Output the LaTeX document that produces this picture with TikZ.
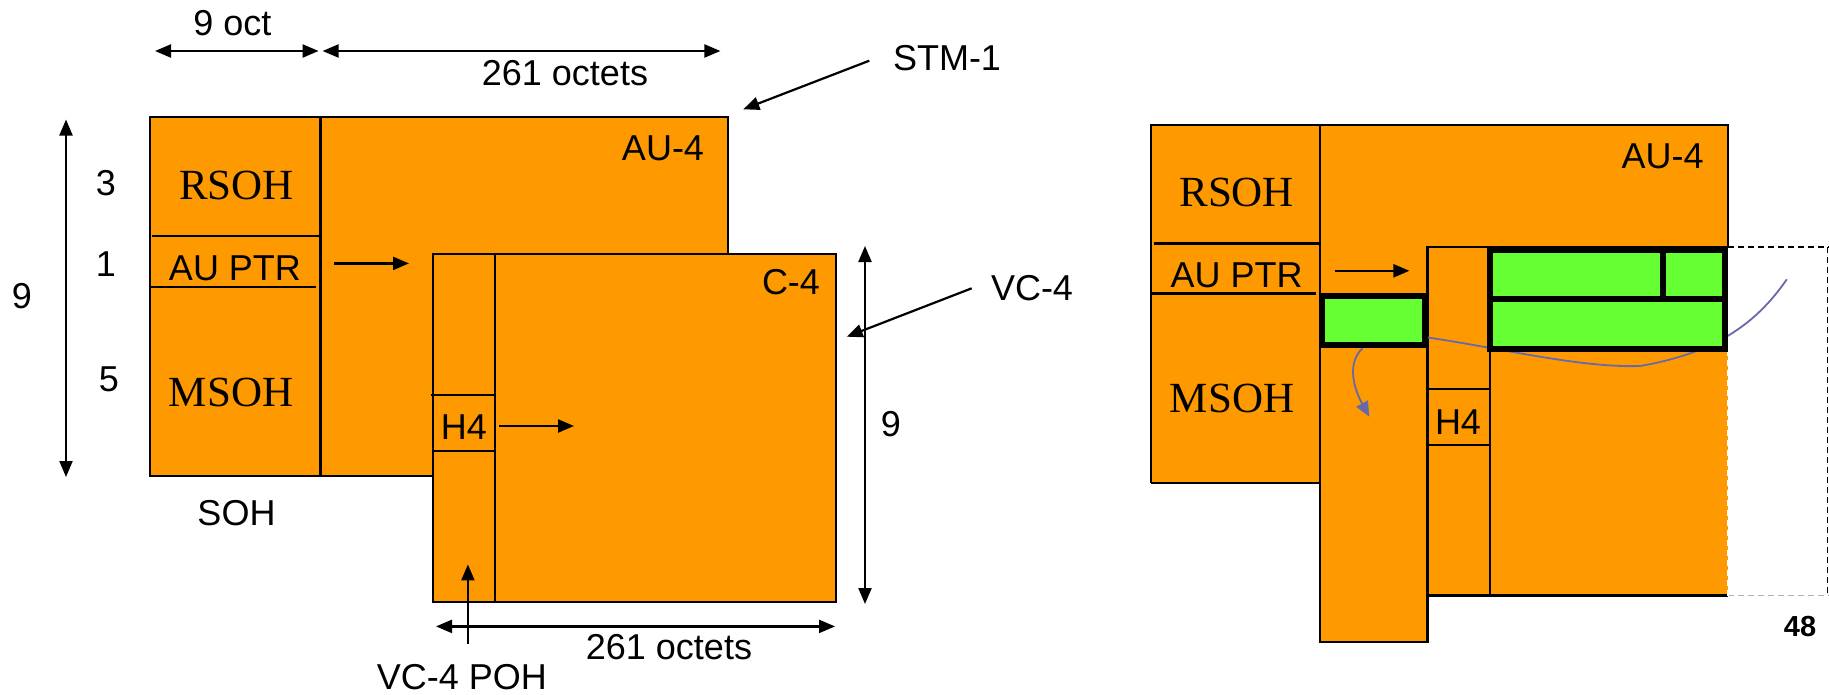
\documentclass[tikz,border=0pt]{standalone}
\usepackage{fontspec}
\setmainfont{Liberation Sans}
\newfontfamily\serifft{Liberation Serif}
\usetikzlibrary{arrows.meta}
\definecolor{sdhorange}{RGB}{255,153,0}
\definecolor{sdhgreen}{RGB}{102,255,51}
\definecolor{curveblue}{RGB}{102,106,170}
\begin{document}
\begin{tikzpicture}[x=1pt,y=-1pt,
  lbl/.style={inner sep=0pt, font=\fontsize{36}{40}\selectfont},
  serlbl/.style={inner sep=0pt, font=\serifft\fontsize{43}{48}\selectfont},
  edge/.style={line width=2.2pt},
  thickedge/.style={line width=2.8pt},
  arr/.style={line width=2.2pt, -{Triangle[length=16pt,width=13pt]}},
  dimarr/.style={line width=2.2pt, {Triangle[length=16pt,width=13pt]}-{Triangle[length=16pt,width=13pt]}},
  gbox/.style={fill=sdhgreen, draw=black, line width=6pt},
  dashedge/.style={dash pattern=on 6pt off 4pt, line width=1.5pt},
]
\useasboundingbox (0,0) rectangle (1829,694);
\fill[white] (0,0) rectangle (1829,694);

% ================= LEFT DIAGRAM =================
\fill[sdhorange] (150,117) rectangle (728,476);
\draw[edge] (150,117) rectangle (728,476);
\draw[edge] (320.5,117) -- (320.5,476);
\draw[thickedge] (152,236) -- (320.5,236);
\draw[thickedge] (150,287) -- (316,287);

\draw[edge, fill=sdhorange] (433,254) rectangle (836,602);
\draw[edge] (495,254) -- (495,602);
\draw[thickedge] (430.5,395) -- (495,395);
\draw[edge] (433,451) -- (495,451);

% texts
\node[serlbl] (rsohL) at (236.5,185) {RSOH};
\node[lbl] (auptrL) at (235,268) {AU PTR};
\node[serlbl] (msohL) at (231,392) {MSOH};
\node[lbl] (au4L) at (663,148) {AU-4};
\node[lbl] (c4L) at (791,282) {C-4};
\node[lbl] (h4L) at (464,427) {H4};
\node[lbl] (nineoct) at (232.5,23) {9 oct};
\node[lbl] (octtop) at (565,73) {261 octets};
\node[lbl] (stm) at (947,58) {STM-1};
\node[lbl] (vc4) at (1032,288) {VC-4};
\node[lbl] (nineR) at (891,424) {9};
\node[lbl] (nineL) at (22,296) {9};
\node[lbl] (three) at (106,183) {3};
\node[lbl] (one) at (106,264) {1};
\node[lbl] (five) at (109,379) {5};
\node[lbl] (soh) at (236.5,512.6) {SOH};
\node[lbl] (octbot) at (669,647) {261 octets};
\node[lbl] (vcpoh) at (462,677) {VC-4 POH};

% dimension arrows
\coordinate (a1) at (155,51);
\coordinate (a2) at (318.6,51);
\coordinate (b1) at (322.6,51);
\coordinate (b2) at (720.4,51);
\draw[dimarr] (a1) -- (a2);
\draw[dimarr] (b1) -- (b2);
\coordinate (vl1) at (66,119.5);
\coordinate (vl2) at (66,477);
\draw[dimarr] (vl1) -- (vl2);
\coordinate (vr1) at (865,246);
\coordinate (vr2) at (865,604);
\draw[dimarr] (vr1) -- (vr2);
\coordinate (bb1) at (436,626.4);
\coordinate (bb2) at (835,626.4);
\draw[dimarr] (bb1) -- (bb2);

% pointer arrows
\coordinate (stmS) at (869.3,60.7);
\coordinate (stmT) at (743.3,109.3);
\draw[arr] (stmS) -- (stmT);
\coordinate (vcS) at (971.7,288.3);
\coordinate (vcT) at (846.7,336.7);
\draw[arr] (vcS) -- (vcT);
\coordinate (apS) at (334,263.4);
\coordinate (apT) at (409,263.4);
\draw[arr] (apS) -- (apT);
\coordinate (h4S) at (499.4,426);
\coordinate (h4T) at (574,426);
\draw[arr] (h4S) -- (h4T);
\coordinate (pohS) at (467.9,644);
\coordinate (pohT) at (467.9,564.4);
\draw[arr] (pohS) -- (pohT);

% ================= RIGHT DIAGRAM =================
% fills
\fill[sdhorange] (1150.7,124.6) rectangle (1728,482.6);
\fill[sdhorange] (1320.3,124.6) rectangle (1427.5,641.7);
\fill[sdhorange] (1427.5,247) rectangle (1728,595.5);
% edges
\draw[edge] (1150.7,482.6) -- (1150.7,124.6) -- (1728,124.6) -- (1728,247);
\draw[edge] (1150.7,482.6) -- (1320.3,482.6);
\draw[edge] (1320.3,124.6) -- (1320.3,641.7) -- (1427.5,641.7) -- (1427.5,247);
\draw[thickedge] (1154,243.2) -- (1320.3,243.2);
\draw[thickedge] (1150.7,293.6) -- (1316,293.6);
\draw[edge] (1728,247) -- (1427.5,247) -- (1427.5,595.5) -- (1728,595.5);
\draw[edge] (1489.9,247) -- (1489.9,595.5);
\draw[edge] (1427.5,389) -- (1489.9,389);
\draw[edge] (1427.5,444.7) -- (1489.9,444.7);

% dashed extension
\draw[dashedge, black] (1728,247) -- (1829,247);
\draw[dashedge, black] (1827.6,247) -- (1827.6,595.5);
\draw[dashedge, black!30] (1728,595.5) -- (1829,595.5);
\draw[dashedge, white] (1728,350) -- (1728,595.5);

% blue path
\coordinate (cv1) at (1786.8,279.3);
\coordinate (cv2) at (1640,366);
\coordinate (cv3) at (1426.5,337.3);
\draw[curveblue, line width=1.8pt] (cv1) .. controls (1760,318) and (1722,352) .. (cv2)
  .. controls (1580,368) and (1500,348) .. (cv3);
\coordinate (cw1) at (1362.4,348.3);
\coordinate (cw2) at (1369.2,416.7);
\draw[curveblue, line width=1.8pt, -{Triangle[length=15pt,width=13pt]}] (cw1) .. controls (1348,362) and (1352,385) .. (cw2);

% green boxes
\draw[gbox] (1321.6,295.7) rectangle (1424.5,345.3);
\draw[gbox] (1490,250) rectangle (1725,298.7);
\draw[gbox] (1490,298.7) rectangle (1725,348.7);
\draw[line width=6pt] (1663,250) -- (1663,298.7);

% right texts
\node[serlbl] (rsohR) at (1236.7,192.8) {RSOH};
\node[lbl] (auptrR) at (1236.7,275) {AU PTR};
\node[serlbl] (msohR) at (1232,398.5) {MSOH};
\node[lbl] (au4R) at (1662.6,156) {AU-4};
\node[lbl] (h4R) at (1458,422) {H4};
\node[inner sep=0pt, font=\bfseries\fontsize{29}{32}\selectfont] (num) at (1800,626.7) {48};

\coordinate (apRS) at (1334.8,270.8);
\coordinate (apRT) at (1409.4,270.8);
\draw[arr] (apRS) -- (apRT);
\end{tikzpicture}
\end{document}
